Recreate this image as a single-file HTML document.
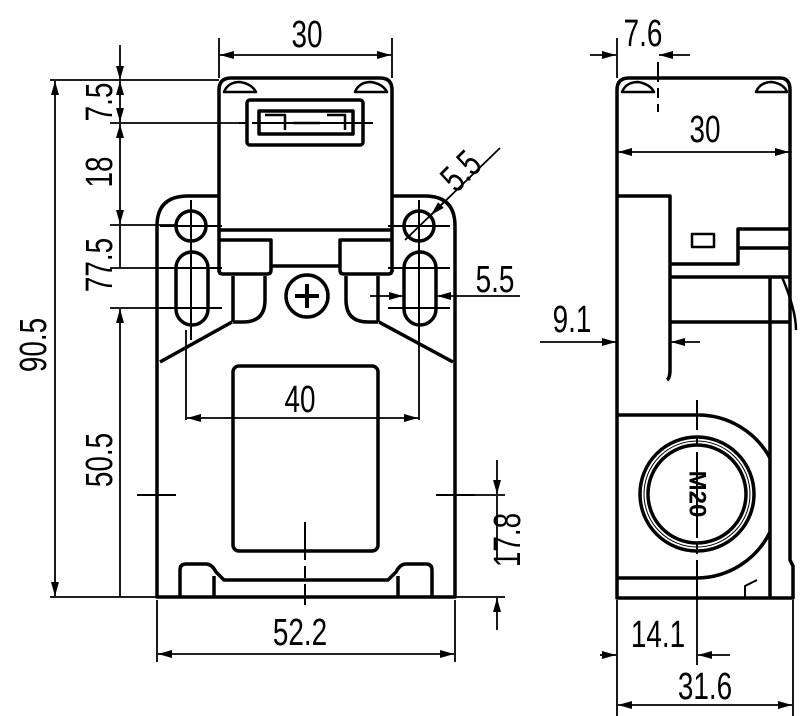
<!DOCTYPE html>
<html><head><meta charset="utf-8"><style>
html,body{margin:0;padding:0;background:#fff}
svg{display:block}
text{font-family:"Liberation Sans",sans-serif;font-size:34px;fill:#000}
</style></head><body>
<svg width="800" height="716" viewBox="0 0 800 716" xmlns="http://www.w3.org/2000/svg">
<defs>
<marker id="a" viewBox="0 0 14 8" refX="14" refY="4" markerWidth="15" markerHeight="8" markerUnits="userSpaceOnUse" orient="auto"><path d="M0,0 L14,4 L0,8 Z" fill="#000"/></marker>
</defs>
<g fill="none" stroke="#000" stroke-width="3.5" stroke-linejoin="round">
<path d="M219,196 H188 Q157,196 157,226 V597 H455 V226 Q455,196 425,196 H392"/>
<path d="M219,272 V90 Q219,78 231,78 H380 Q392,78 392,90 V272"/>
<path d="M224,92 Q228,82 240,82 Q252,84 256,92 Z M355,92 Q359,82 371,82 Q383,84 387,92 Z" stroke-width="2.5"/>
<rect x="247" y="100" width="116" height="45" rx="3"/>
<rect x="259" y="111" width="94" height="23"/>
<path d="M265,115 H285 V130 M327,115 H345 V130 M293,123 H320" stroke-width="2.5"/>
<path d="M219,230 H392"/>
<path d="M219,240 H271 V270 Q271,274 267,274 H223 Q219,274 219,270 M392,240 H340 V270 Q340,274 344,274 H388 Q392,274 392,270"/>
<path d="M271,266 H340"/>
<path d="M233,276 V322 M265,276 V300 Q265,322 243,322 H233"/>
<path d="M378,276 V322 M346,276 V300 Q346,322 368,322 H378"/>
<path d="M232,322 L160,362 M379,322 L453,362"/>
<circle cx="191" cy="226" r="15"/>
<circle cx="419" cy="226" r="15"/>
<rect x="176" y="252" width="32" height="73" rx="16"/>
<rect x="404" y="252" width="32" height="73" rx="16"/>
<circle cx="307" cy="296" r="21"/>
<path d="M307,284 V308 M295,296 H319" stroke-width="4"/>
<rect x="233" y="366" width="145" height="185" rx="6"/>
<path d="M180,597 V570 Q180,564 186,564 H206 Q212,564 216,572 L224,580 H388 L396,572 Q400,564 406,564 H426 Q432,564 432,570 V597"/>
<path d="M214,576 V597 M398,576 V597"/>
<path d="M617,598 V90 Q617,78 629,78 H780 Q790,78 790,90 V560 L793,566 V598 Z"/>
<path d="M622,92 Q626,82 638,82 Q650,84 654,92 Z M756,92 Q760,82 772,82 Q784,84 787,92 Z" stroke-width="2.5"/>
<path d="M617,196 H670 V370 Q670,378 667,380"/>
<path d="M670,264 H738 V229 H790 M738,248 H790"/>
<rect x="692" y="234" width="22" height="13" stroke-width="2.5"/>
<path d="M670,277 H790 M670,322 H790 M770,277 V598"/>
<path d="M617,415 H697 A82,82 0 0 1 770,458 M617,578 H697 A82,82 0 0 0 770,532"/>
<circle cx="697" cy="494" r="57"/>
<circle cx="697" cy="494" r="49"/>
<circle cx="697" cy="494" r="53" stroke-width="1"/>
<path d="M745,598 V586 L757,580" stroke-width="2"/>
</g>
<g stroke="#000" stroke-width="2" fill="none">
<path d="M191,200 V340 M160,226 H222 M388,226 H450 M419,200 V340 M160,268 H222 M160,308 H222 M388,268 H450 M388,308 H450"/>
<path d="M305,522 V560 M305,566 V578 M305,584 V605" />
<path d="M137,495 H176 M436,495 H475"/>
<path d="M239,123 H246 M252,123 H373"/>
<path d="M658,62 V82 M658,88 V98 M658,104 V112"/>
<path d="M697,400 V430 M697,436 V446 M697,452 V538 M697,544 V554 M697,560 V600"/>
<path d="M782,277 Q796,310 796,330" stroke-width="2.5"/>
</g>
<text x="697" y="494" transform="rotate(90 697 494)" text-anchor="middle" dominant-baseline="central" style="font-size:24px;font-weight:bold">M20</text>
<g stroke="#000" stroke-width="1.8" fill="none">
<path d="M219,38 V78 M392,38 V78"/>
<path d="M305,55 H220" marker-end="url(#a)"/><path d="M305,55 H391" marker-end="url(#a)"/>
<path d="M50,80 H219 M110,123 H240 M110,225 H176 M110,268 H176 M110,308 H176 M50,597 H157"/>
<path d="M120,45 V80" marker-end="url(#a)"/>
<path d="M120,102 V81" marker-end="url(#a)"/><path d="M120,102 V122" marker-end="url(#a)"/>
<path d="M120,175 V124" marker-end="url(#a)"/><path d="M120,175 V224" marker-end="url(#a)"/>
<path d="M120,225 V268"/>
<path d="M120,330 V309" marker-end="url(#a)"/>
<path d="M120,330 V597"/>
<path d="M55,340 V81" marker-end="url(#a)"/><path d="M55,340 V596" marker-end="url(#a)"/>
<path d="M186,330 V420 M419,330 V420"/>
<path d="M300,418 H187" marker-end="url(#a)"/><path d="M300,418 H418" marker-end="url(#a)"/>
<path d="M157,600 V662 M455,600 V662"/>
<path d="M306,654 H158" marker-end="url(#a)"/><path d="M306,654 H454" marker-end="url(#a)"/>
<path d="M440,495 H505 M455,597 H505"/>
<path d="M497,460 V494" marker-end="url(#a)"/><path d="M497,560 V496"/>
<path d="M497,630 V598" marker-end="url(#a)"/>
<path d="M370,296 H403" marker-end="url(#a)"/><path d="M520,296 H437" marker-end="url(#a)"/>
<path d="M405,240 L500,148"/>
<path d="M445,201 L431,215" marker-end="url(#a)"/>
<path d="M617,38 V78"/>
<path d="M590,55 H616" marker-end="url(#a)"/><path d="M690,55 H659" marker-end="url(#a)"/>
<path d="M703,152 H618" marker-end="url(#a)"/><path d="M703,152 H789" marker-end="url(#a)"/>
<path d="M540,342 H616" marker-end="url(#a)"/><path d="M700,342 H671" marker-end="url(#a)"/>
<path d="M617,600 V716 M697,600 V665 M793,600 V716"/>
<path d="M600,655 H616" marker-end="url(#a)"/><path d="M730,655 H698" marker-end="url(#a)"/>
<path d="M705,705 H618" marker-end="url(#a)"/><path d="M705,705 H792" marker-end="url(#a)"/>
</g>
<g text-anchor="middle">
<text transform="translate(307,47) scale(0.82,1.12)">30</text>
<text transform="translate(300,412) scale(0.82,1.12)">40</text>
<text transform="translate(300,645) scale(0.82,1.12)">52.2</text>
<text transform="translate(495,292) scale(0.82,1.12)">5.5</text>
<text transform="translate(470,180) rotate(-45) scale(0.82,1.12)">5.5</text>
<text transform="translate(112,102) rotate(-90) scale(0.82,1.12)">7.5</text>
<text transform="translate(112,172) rotate(-90) scale(0.82,1.12)">18</text>
<text transform="translate(112,265) rotate(-90) scale(0.82,1.12)">77.5</text>
<text transform="translate(112,460) rotate(-90) scale(0.82,1.12)">50.5</text>
<text transform="translate(46,345) rotate(-90) scale(0.82,1.12)">90.5</text>
<text transform="translate(520,540) rotate(-90) scale(0.82,1.12)">17.8</text>
<text transform="translate(643,46) scale(0.82,1.12)">7.6</text>
<text transform="translate(705,142) scale(0.82,1.12)">30</text>
<text transform="translate(572,332) scale(0.82,1.12)">9.1</text>
<text transform="translate(658,647) scale(0.82,1.12)">14.1</text>
<text transform="translate(705,699) scale(0.82,1.12)">31.6</text>
</g>
</svg>
</body></html>
